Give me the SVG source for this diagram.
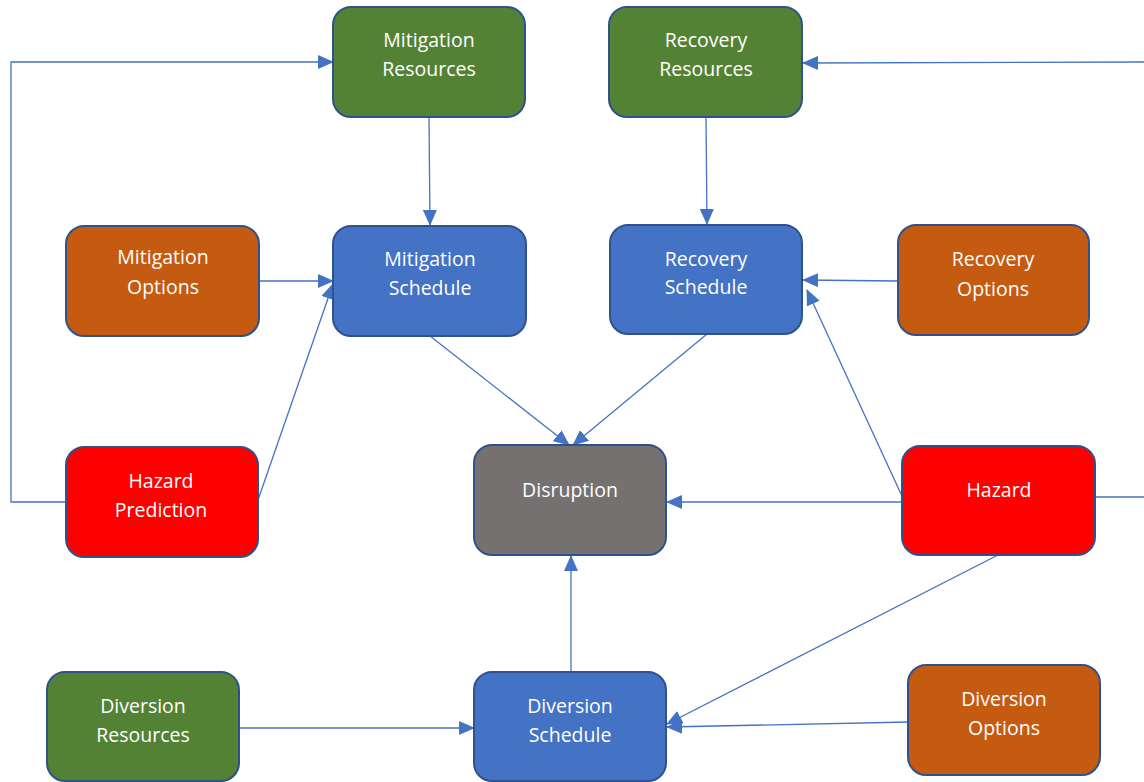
<svg xmlns="http://www.w3.org/2000/svg" width="1144" height="782" viewBox="0 0 1144 782">
<style>
.n rect{stroke:#2F528F;stroke-width:2}
.g rect{fill:#548235}.o rect{fill:#C55A11}.b rect{fill:#4472C4}.r rect{fill:#FF0000}.k rect{fill:#767171}
.n text{fill:#fff;font-family:"Open Sans","Noto Sans",sans-serif;font-size:19.5px;text-anchor:middle}
#edges path{fill:none;stroke:#4472C4;stroke-width:1.3}
</style>
<defs>
<marker id="a" markerUnits="userSpaceOnUse" markerWidth="16" markerHeight="14" refX="15" refY="7" orient="auto">
<path d="M0,0 L16,7 L0,14 Z" fill="#4472C4"/>
</marker>
</defs>
<rect width="1144" height="782" fill="#fff"/>
<g id="edges">
<path d="M66,502 H11 V62 H333" marker-end="url(#a)"/>
<path d="M1144,62 L803,63" marker-end="url(#a)"/>
<path d="M1095,497 H1144"/>
<path d="M429,117 L430,225" marker-end="url(#a)"/>
<path d="M706,117 L707,224" marker-end="url(#a)"/>
<path d="M259,281 H333" marker-end="url(#a)"/>
<path d="M258,500 L333,284" marker-end="url(#a)"/>
<path d="M430,336 L569,445" marker-end="url(#a)"/>
<path d="M707,334 L573,445" marker-end="url(#a)"/>
<path d="M898,281 L803,280" marker-end="url(#a)"/>
<path d="M901,494 L807,290" marker-end="url(#a)"/>
<path d="M902,502 H667" marker-end="url(#a)"/>
<path d="M998,555 L667,724" marker-end="url(#a)"/>
<path d="M908,722 L667,727" marker-end="url(#a)"/>
<path d="M239,728 H474" marker-end="url(#a)"/>
<path d="M571,672 V556" marker-end="url(#a)"/>
</g>
<g id="mitigation-resources" class="n g"><rect x="333" y="7" width="192" height="110" rx="18"/><text x="429" y="47">Mitigation</text><text x="429" y="76">Resources</text></g>
<g id="recovery-resources" class="n g"><rect x="609" y="7" width="193" height="110" rx="18"/><text x="706" y="47">Recovery</text><text x="706" y="76">Resources</text></g>
<g id="mitigation-options" class="n o"><rect x="66" y="226" width="193" height="110" rx="18"/><text x="163" y="264">Mitigation</text><text x="163" y="294">Options</text></g>
<g id="mitigation-schedule" class="n b"><rect x="333" y="226" width="193" height="110" rx="18"/><text x="430" y="266">Mitigation</text><text x="430" y="295">Schedule</text></g>
<g id="recovery-schedule" class="n b"><rect x="610" y="225" width="192" height="109" rx="18"/><text x="706" y="266">Recovery</text><text x="706" y="294">Schedule</text></g>
<g id="recovery-options" class="n o"><rect x="898" y="225" width="191" height="110" rx="18"/><text x="993" y="266">Recovery</text><text x="993" y="296">Options</text></g>
<g id="hazard-prediction" class="n r"><rect x="66" y="447" width="192" height="110" rx="18"/><text x="161" y="488">Hazard</text><text x="161" y="517">Prediction</text></g>
<g id="disruption" class="n k"><rect x="474" y="445" width="192" height="110" rx="18"/><text x="570" y="497">Disruption</text></g>
<g id="hazard" class="n r"><rect x="902" y="446" width="193" height="109" rx="18"/><text x="999" y="497">Hazard</text></g>
<g id="diversion-resources" class="n g"><rect x="47" y="672" width="192" height="109" rx="18"/><text x="143" y="713">Diversion</text><text x="143" y="742">Resources</text></g>
<g id="diversion-schedule" class="n b"><rect x="474" y="672" width="192" height="109" rx="18"/><text x="570" y="713">Diversion</text><text x="570" y="742">Schedule</text></g>
<g id="diversion-options" class="n o"><rect x="908" y="665" width="192" height="110" rx="18"/><text x="1004" y="706">Diversion</text><text x="1004" y="735">Options</text></g>
</svg>
